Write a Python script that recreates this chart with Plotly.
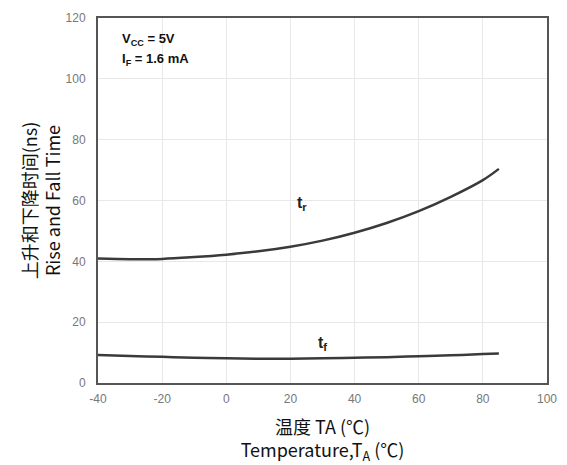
import plotly.graph_objects as go

temp = [-40, -30, -20, -10, 0, 10, 20, 30, 40, 50, 60, 70, 80, 85]
t_rise = [40.9, 40.7, 40.8, 41.4, 42.2, 43.3, 44.8, 46.8, 49.4, 52.6, 56.5, 61.2, 66.7, 70.4]
t_fall = [9.2, 8.9, 8.6, 8.3, 8.1, 8.0, 8.0, 8.1, 8.3, 8.5, 8.8, 9.1, 9.5, 9.7]

x_ticks = [-40, -20, 0, 20, 40, 60, 80, 100]
x_tick_text = ["-40", "-20", "0", "20", "40", "60", "80", "100"]
y_ticks = [0, 20, 40, 60, 80, 100, 120]
y_tick_text = ["0", "20", "40", "60", "80", "100", "120"]

line_color = "#3a3a3a"
fig = go.Figure()
fig.add_trace(go.Scatter(x=temp, y=t_rise, mode="lines", line=dict(color=line_color, width=2.5, shape="spline"), showlegend=False))
fig.add_trace(go.Scatter(x=temp, y=t_fall, mode="lines", line=dict(color=line_color, width=2.5, shape="spline"), showlegend=False))

ann_font = dict(family="Liberation Sans, Arial", size=13, color="#111")
fig.add_annotation(x=23.5, y=59, text="<b>t<sub>r</sub></b>", showarrow=False, font=dict(family="Liberation Sans, Arial", size=16, color="#222"))
fig.add_annotation(x=30, y=13, text="<b>t<sub>f</sub></b>", showarrow=False, font=dict(family="Liberation Sans, Arial", size=16, color="#222"))
fig.add_annotation(x=-33, y=113, xanchor="left", yanchor="middle", text="<b>V<sub>CC</sub> = 5V</b>", showarrow=False, font=ann_font)
fig.add_annotation(x=-33, y=106.3, xanchor="left", yanchor="middle", text="<b>I<sub>F</sub> = 1.6 mA</b>", showarrow=False, font=ann_font)

title_font = dict(family="Noto Sans CJK SC", size=18, color="#111")
tick_font = dict(family="Liberation Sans, Arial", size=12, color="#777")
fig.update_layout(
    width=567, height=465,
    margin=dict(l=98, r=20, t=18, b=82, autoexpand=False),
    plot_bgcolor="white", paper_bgcolor="white",
    xaxis=dict(range=[-40, 100], tickvals=x_ticks, ticktext=x_tick_text, showgrid=True, gridcolor="#e8e8e8", gridwidth=1,
               showline=True, linecolor="#555", linewidth=2, mirror=True, zeroline=False, automargin=False,
               tickfont=tick_font, ticklabelstandoff=4,
               title=dict(text="温度 TA (℃)<br>Temperature,T<sub>A</sub> (℃)", font=title_font, standoff=25)),
    yaxis=dict(range=[0, 120], tickvals=y_ticks, ticktext=y_tick_text, showgrid=True, gridcolor="#e8e8e8", gridwidth=1,
               showline=True, linecolor="#555", linewidth=2, mirror=True, zeroline=False, automargin=False,
               tickfont=tick_font, ticklabelstandoff=8,
               title=dict(text="上升和下降时间(ns)<br>Rise and Fall Time", font=title_font, standoff=0)),
)
fig.write_html("out.html")
